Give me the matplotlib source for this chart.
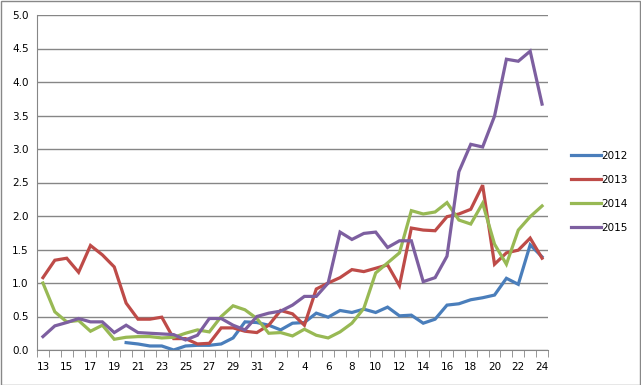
import matplotlib
matplotlib.use("Agg")
import matplotlib.pyplot as plt
from matplotlib.patches import Rectangle
import numpy as np

# week labels: 13..31 then 1..24
weeks = list(range(13, 32)) + list(range(1, 25))

nan = np.nan
y2012 = [nan] * 7 + [0.11, 0.09, 0.06, 0.06, 0.0, 0.06, 0.07, 0.07, 0.09, 0.18, 0.42, 0.41,
                     0.37, 0.30, 0.40, 0.41, 0.55, 0.49, 0.59, 0.56, 0.61, 0.56, 0.64, 0.51,
                     0.52, 0.40, 0.46, 0.67, 0.69, 0.75, 0.78, 0.82, 1.07, 0.98, 1.57, 1.39]
y2013 = [1.08, 1.34, 1.37, 1.16, 1.56, 1.42, 1.24, 0.70, 0.46, 0.46, 0.49, 0.17, 0.17, 0.09,
         0.10, 0.33, 0.33, 0.28, 0.26, 0.37, 0.59, 0.54, 0.37, 0.91, 1.00, 1.08, 1.20, 1.17,
         1.22, 1.27, 0.96, 1.82, 1.79, 1.78, 1.99, 2.03, 2.10, 2.46, 1.28, 1.45, 1.49, 1.67, 1.37]
y2014 = [1.00, 0.57, 0.42, 0.44, 0.28, 0.37, 0.16, 0.19, 0.20, 0.20, 0.18, 0.19, 0.25, 0.30,
         0.27, 0.50, 0.66, 0.60, 0.47, 0.25, 0.26, 0.21, 0.31, 0.22, 0.18, 0.27, 0.40, 0.62,
         1.15, 1.30, 1.45, 2.08, 2.03, 2.06, 2.20, 1.94, 1.88, 2.19, 1.58, 1.28, 1.79, 1.99, 2.15]
y2015 = [0.20, 0.36, 0.41, 0.47, 0.42, 0.42, 0.26, 0.37, 0.26, 0.25, 0.24, 0.23, 0.15, 0.22,
         0.47, 0.47, 0.37, 0.30, 0.50, 0.55, 0.58, 0.67, 0.80, 0.80, 1.00, 1.76, 1.65, 1.74,
         1.76, 1.53, 1.63, 1.63, 1.02, 1.08, 1.40, 2.66, 3.07, 3.03, 3.49, 4.34, 4.31, 4.46, 3.67]

series = [("2012", y2012, "#4A7EBB"), ("2013", y2013, "#BE4B48"),
          ("2014", y2014, "#98B954"), ("2015", y2015, "#7D5FA0")]

fig = plt.figure(figsize=(6.41, 3.85), dpi=100)
ax = fig.add_axes([37 / 641, 35 / 385, 511 / 641, 335 / 385])

x = np.arange(len(weeks))
for name, ys, c in series:
    ax.plot(x, ys, color=c, lw=2.3, label=name, solid_joinstyle="miter")

ax.set_xlim(-0.5, len(weeks) - 0.5)
ax.set_ylim(0, 5)
ax.set_yticks(np.arange(0, 5.01, 0.5))
ax.set_yticklabels(["%.1f" % v for v in np.arange(0, 5.01, 0.5)])
ax.yaxis.grid(True, color="#868686", lw=1)
ax.set_axisbelow(True)
ax.tick_params(axis="y", length=0, pad=6, labelsize=7.5)

ax.set_xticks(x[::2])
ax.set_xticklabels([str(w) for w in weeks[::2]])
ax.set_xticks(np.arange(-0.5, len(weeks), 1), minor=True)
ax.tick_params(axis="x", which="major", length=0, pad=9, labelsize=7.5)
ax.tick_params(axis="x", which="minor", length=5, color="#868686", direction="out")

for s in ["top", "right"]:
    ax.spines[s].set_visible(False)
ax.spines["left"].set_color("#868686")
ax.spines["bottom"].set_color("#868686")

fig.legend(loc="center left", bbox_to_anchor=(562 / 641, 1 - 192 / 385), frameon=False,
           fontsize=7.5, handlelength=2.8, handletextpad=0.1, labelspacing=1.35)

fig.add_artist(Rectangle((0.5 / 641, 0.5 / 385), 639.5 / 641, 383.5 / 385,
                         transform=fig.transFigure, fill=False, edgecolor="#888888", lw=1))

plt.savefig("out.png", dpi=100)
